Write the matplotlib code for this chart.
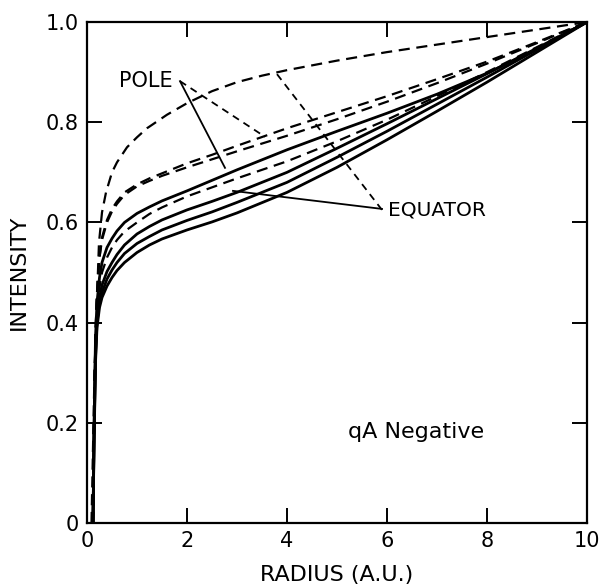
import numpy as np
import matplotlib
matplotlib.use("Agg")
import matplotlib.pyplot as plt

# radius grid shared by most curves
r = [0.12, 0.14, 0.17, 0.2, 0.25, 0.3, 0.4, 0.5, 0.6, 0.75, 1.0, 1.25, 1.5, 2, 2.5, 3, 4, 5, 6, 7, 8, 9, 10]

# solid curves
s3 = [0.0, 0.15, 0.32, 0.39, 0.43, 0.45, 0.473, 0.49, 0.504, 0.52, 0.54, 0.555, 0.567, 0.585, 0.601, 0.619,
      0.66, 0.71, 0.765, 0.822, 0.88, 0.94, 1.0]
s2 = [0.0, 0.16, 0.33, 0.40, 0.44, 0.46, 0.487, 0.505, 0.52, 0.538, 0.558, 0.572, 0.585, 0.604, 0.621, 0.64,
      0.68, 0.73, 0.782, 0.836, 0.89, 0.945, 1.0]
s1 = [0.0, 0.17, 0.34, 0.41, 0.45, 0.475, 0.502, 0.52, 0.536, 0.555, 0.577, 0.592, 0.605, 0.625, 0.642, 0.66,
      0.70, 0.748, 0.797, 0.847, 0.897, 0.948, 1.0]
pole = [0.0, 0.19, 0.37, 0.44, 0.49, 0.52, 0.55, 0.568, 0.583, 0.60, 0.618, 0.631, 0.643, 0.663, 0.684, 0.705,
        0.745, 0.782, 0.818, 0.856, 0.898, 0.946, 1.0]

# dashed curves
d4 = [0.0, 0.18, 0.35, 0.42, 0.47, 0.50, 0.53, 0.55, 0.565, 0.582, 0.60, 0.617, 0.63, 0.652, 0.67, 0.688,
      0.722, 0.762, 0.805, 0.852, 0.90, 0.95, 1.0]
d3 = [0.0, 0.2, 0.38, 0.46, 0.53, 0.565, 0.60, 0.622, 0.637, 0.655, 0.672, 0.683, 0.693, 0.71, 0.726, 0.742,
      0.773, 0.806, 0.841, 0.878, 0.917, 0.958, 1.0]
d2 = [0.0, 0.2, 0.38, 0.46, 0.53, 0.57, 0.605, 0.627, 0.642, 0.66, 0.676, 0.688, 0.698, 0.718, 0.735, 0.753,
      0.788, 0.82, 0.852, 0.886, 0.921, 0.96, 1.0]
r_top = [0.09, 0.12, 0.15, 0.2, 0.24, 0.3, 0.38, 0.5, 0.6, 0.8, 1.0, 1.2, 1.6, 2.0, 2.5, 3, 3.5, 4, 5, 6, 7, 8, 9, 10]
d1 = [0.0, 0.15, 0.30, 0.45, 0.56, 0.62, 0.66, 0.70, 0.72, 0.75, 0.77, 0.788, 0.815, 0.838, 0.862, 0.880,
      0.893, 0.904, 0.923, 0.94, 0.955, 0.97, 0.985, 1.0]

fig = plt.figure(figsize=(6, 5.88), dpi=100)
ax = fig.add_axes([0.145, 0.1105, 0.8333, 0.852])

for y in [s3, s2, s1, pole]:
    ax.plot(r, y, color="black", lw=2.0)
for y in [d4, d3, d2]:
    ax.plot(r, y, color="black", lw=1.6, dashes=(5, 3))
ax.plot(r_top, d1, color="black", lw=1.6, dashes=(5, 3))

# labels with pointer lines
ax.text(1.72, 0.882, "POLE", ha="right", va="center", fontsize=15)
ax.plot([1.86, 2.76], [0.882, 0.709], color="black", lw=1.3)
ax.plot([1.86, 3.56], [0.882, 0.771], color="black", lw=1.3, dashes=(4, 3))

ax.text(6.02, 0.625, "EQUATOR", ha="left", va="center", fontsize=14.5)
ax.plot([2.92, 5.9], [0.663, 0.627], color="black", lw=1.3)
ax.plot([3.8, 5.9], [0.896, 0.625], color="black", lw=1.3, dashes=(4, 3))

ax.text(6.58, 0.181, "qA Negative", ha="center", va="center", fontsize=16)

ax.set_xlim(0, 10)
ax.set_ylim(0, 1)
ax.set_xticks([0, 2, 4, 6, 8, 10])
ax.set_xticklabels(["0", "2", "4", "6", "8", "10"])
ax.set_yticks([0, 0.2, 0.4, 0.6, 0.8, 1.0])
ax.set_yticklabels(["0", "0.2", "0.4", "0.6", "0.8", "1.0"])
ax.tick_params(direction="in", length=11, width=1.4, top=True, right=True,
               labelsize=15, pad=6)
for sp in ax.spines.values():
    sp.set_linewidth(1.6)

ax.set_xlabel("RADIUS (A.U.)", fontsize=16, labelpad=10)
ax.set_ylabel("INTENSITY", fontsize=16, labelpad=12)

fig.savefig("out.png", dpi=100)
